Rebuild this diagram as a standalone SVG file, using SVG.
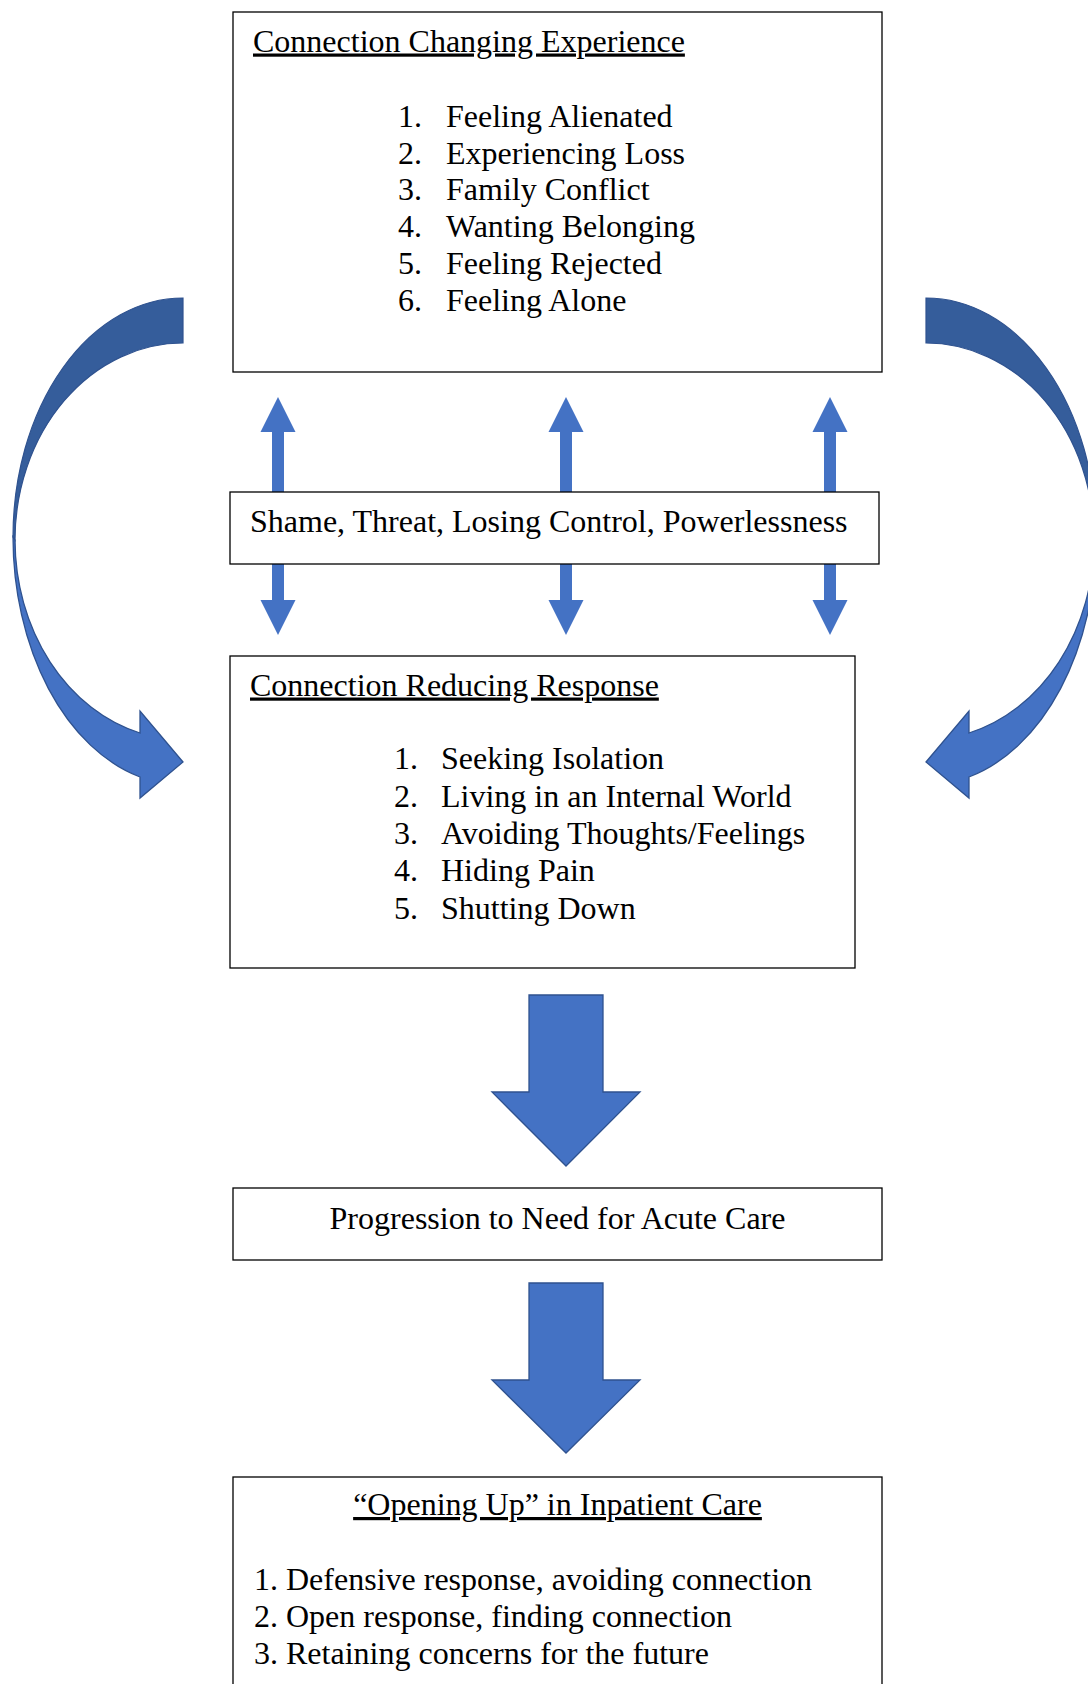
<svg xmlns="http://www.w3.org/2000/svg" xmlns:xlink="http://www.w3.org/1999/xlink" width="1088" height="1684" viewBox="0 0 1088 1684">
<style>
  .box { fill: #ffffff; stroke: #000000; stroke-width: 1.3; }
  .t { font-family: "Liberation Serif", "Times New Roman", serif; font-size: 32px; fill: #000000; }
  .u { text-decoration: underline; text-decoration-skip-ink: none; }
  .mid { text-anchor: middle; }
  .thin { fill: #4472C4; }
  .big { fill: #4472C4; stroke: #2F528F; stroke-width: 1.3; }
  .dark { fill: #355D9B; stroke: #2F528F; stroke-width: 1.2; }
  .light { fill: #4472C4; stroke: #2F528F; stroke-width: 1.3; }
</style>
<defs>
  <g id="curved">
    <path class="dark" d="M183,298 A170,239 0 0 0 13,537 L15,540 A168,197 0 0 1 183,343 Z"/>
    <path class="light" d="M13,537 A170,248 0 0 0 140,777 L140,798 L183,762 L140,711 L140,733 A168,200 0 0 1 15,540 Z"/>
  </g>
</defs>
<rect width="1088" height="1684" fill="#ffffff"/>

<g id="connectors">
  <use xlink:href="#curved" href="#curved"/>
  <use xlink:href="#curved" href="#curved" transform="translate(1109,0) scale(-1,1)"/>
  <polygon class="thin" points="278,397 295.5,432 284,432 284,600 295.5,600 278,635 260.5,600 272,600 272,432 260.5,432"/>
  <polygon class="thin" points="566,397 583.5,432 572,432 572,600 583.5,600 566,635 548.5,600 560,600 560,432 548.5,432"/>
  <polygon class="thin" points="830,397 847.5,432 836,432 836,600 847.5,600 830,635 812.5,600 824,600 824,432 812.5,432"/>
  <polygon class="big" points="529,995 603,995 603,1092 640,1092 566,1166 492,1092 529,1092"/>
  <polygon class="big" points="529,1283 603,1283 603,1380 640,1380 566,1453 492,1380 529,1380"/>
</g>

<g id="connection-changing-experience">
  <rect class="box" x="233" y="12" width="649" height="360"/>
  <text class="t u" x="253" y="51.5">Connection Changing Experience</text>
  <text class="t" x="398" y="126.5">1.</text><text class="t" x="446" y="126.5">Feeling Alienated</text>
  <text class="t" x="398" y="163.5">2.</text><text class="t" x="446" y="163.5">Experiencing Loss</text>
  <text class="t" x="398" y="199.5">3.</text><text class="t" x="446" y="199.5">Family Conflict</text>
  <text class="t" x="398" y="236.5">4.</text><text class="t" x="446" y="236.5">Wanting Belonging</text>
  <text class="t" x="398" y="273.5">5.</text><text class="t" x="446" y="273.5">Feeling Rejected</text>
  <text class="t" x="398" y="310.5">6.</text><text class="t" x="446" y="310.5">Feeling Alone</text>
</g>

<g id="shame-threat">
  <rect class="box" x="230" y="492" width="649" height="72"/>
  <text class="t" x="250" y="531.5">Shame, Threat, Losing Control, Powerlessness</text>
</g>

<g id="connection-reducing-response">
  <rect class="box" x="230" y="656" width="625" height="312"/>
  <text class="t u" x="250" y="695.5">Connection Reducing Response</text>
  <text class="t" x="394" y="768.5">1.</text><text class="t" x="441" y="768.5">Seeking Isolation</text>
  <text class="t" x="394" y="806.5">2.</text><text class="t" x="441" y="806.5">Living in an Internal World</text>
  <text class="t" x="394" y="843.5">3.</text><text class="t" x="441" y="843.5">Avoiding Thoughts/Feelings</text>
  <text class="t" x="394" y="880.5">4.</text><text class="t" x="441" y="880.5">Hiding Pain</text>
  <text class="t" x="394" y="918.5">5.</text><text class="t" x="441" y="918.5">Shutting Down</text>
</g>

<g id="progression">
  <rect class="box" x="233" y="1188" width="649" height="72"/>
  <text class="t mid" x="557.5" y="1228.5">Progression to Need for Acute Care</text>
</g>

<g id="opening-up">
  <rect class="box" x="233" y="1477" width="649" height="240"/>
  <text class="t u mid" x="557.5" y="1515">“Opening Up” in Inpatient Care</text>
  <text class="t" x="254" y="1589.5">1. Defensive response, avoiding connection</text>
  <text class="t" x="254" y="1626.5">2. Open response, finding connection</text>
  <text class="t" x="254" y="1663.5">3. Retaining concerns for the future</text>
</g>
</svg>
